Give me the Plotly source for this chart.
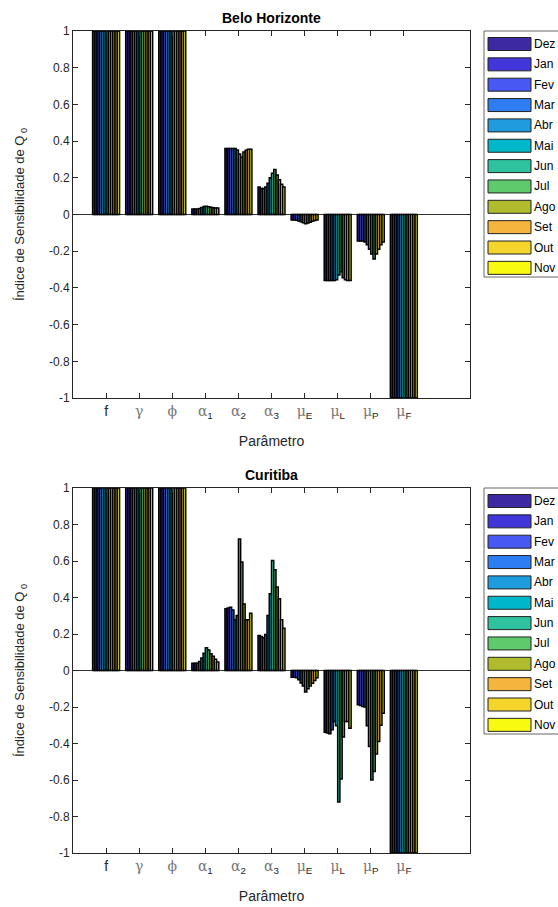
import plotly.graph_objects as go

# ---------------- data ----------------
months = ["Dez", "Jan", "Fev", "Mar", "Abr", "Mai", "Jun", "Jul", "Ago", "Set", "Out", "Nov"]
month_colors = ["#3D2AA3", "#4236DA", "#4759F2", "#2E7DF2", "#1F9CDE", "#00B6C9",
                "#2FC29E", "#5FCA6B", "#B0BC2E", "#F5B43D", "#F5D52B", "#F8FA10"]
G = "<span style='font-family:DejaVu Serif;color:#777'>"
param_labels = ["f", G + "γ</span>", G + "ϕ</span>",
                G + "α</span><sub>1</sub>", G + "α</span><sub>2</sub>", G + "α</span><sub>3</sub>",
                G + "μ</span><sub>E</sub>", G + "μ</span><sub>L</sub>", G + "μ</span><sub>P</sub>",
                G + "μ</span><sub>F</sub>"]
param_pos = [1, 2, 3, 4, 5, 6, 7, 8, 9, 10]
ytick_vals = [-1, -0.8, -0.6, -0.4, -0.2, 0, 0.2, 0.4, 0.6, 0.8, 1]
ytick_text = ["-1", "-0.8", "-0.6", "-0.4", "-0.2", "0", "0.2", "0.4", "0.6", "0.8", "1"]

# Belo Horizonte (rows: months Dez..Nov)
bh_f      = [1, 1, 1, 1, 1, 1, 1, 1, 1, 1, 1, 1]
bh_gamma  = [1, 1, 1, 1, 1, 1, 1, 1, 1, 1, 1, 1]
bh_phi    = [1, 1, 1, 1, 1, 1, 1, 1, 1, 1, 1, 1]
bh_alpha1 = [0.030, 0.030, 0.030, 0.033, 0.038, 0.043, 0.045, 0.042, 0.040, 0.037, 0.035, 0.035]
bh_alpha2 = [0.360, 0.360, 0.360, 0.360, 0.360, 0.352, 0.330, 0.312, 0.340, 0.350, 0.355, 0.355]
bh_alpha3 = [0.150, 0.142, 0.142, 0.150, 0.170, 0.200, 0.225, 0.245, 0.215, 0.190, 0.165, 0.150]
bh_muE    = [-0.030, -0.030, -0.032, -0.035, -0.040, -0.045, -0.050, -0.046, -0.042, -0.037, -0.033, -0.030]
bh_muL    = [-0.360, -0.360, -0.360, -0.360, -0.360, -0.355, -0.330, -0.312, -0.345, -0.355, -0.360, -0.360]
bh_muP    = [-0.145, -0.145, -0.145, -0.150, -0.165, -0.190, -0.215, -0.243, -0.215, -0.190, -0.165, -0.150]
bh_muF    = [-1, -1, -1, -1, -1, -1, -1, -1, -1, -1, -1, -1]

# Curitiba
cw_f      = [1, 1, 1, 1, 1, 1, 1, 1, 1, 1, 1, 1]
cw_gamma  = [1, 1, 1, 1, 1, 1, 1, 1, 1, 1, 1, 1]
cw_phi    = [1, 1, 1, 1, 1, 1, 1, 1, 1, 1, 1, 1]
cw_alpha1 = [0.040, 0.040, 0.040, 0.050, 0.068, 0.095, 0.125, 0.112, 0.092, 0.078, 0.062, 0.047]
cw_alpha2 = [0.338, 0.343, 0.347, 0.332, 0.278, 0.301, 0.721, 0.594, 0.365, 0.278, 0.278, 0.314]
cw_alpha3 = [0.192, 0.186, 0.179, 0.197, 0.301, 0.420, 0.603, 0.552, 0.457, 0.393, 0.278, 0.232]
cw_muE    = [-0.037, -0.037, -0.040, -0.050, -0.068, -0.085, -0.118, -0.100, -0.085, -0.070, -0.055, -0.040]
cw_muL    = [-0.338, -0.343, -0.347, -0.325, -0.280, -0.303, -0.721, -0.595, -0.365, -0.280, -0.280, -0.316]
cw_muP    = [-0.188, -0.192, -0.197, -0.200, -0.303, -0.416, -0.600, -0.553, -0.457, -0.389, -0.300, -0.234]
cw_muF    = [-1, -1, -1, -1, -1, -1, -1, -1, -1, -1, -1, -1]

bh_params = [bh_f, bh_gamma, bh_phi, bh_alpha1, bh_alpha2, bh_alpha3, bh_muE, bh_muL, bh_muP, bh_muF]
cw_params = [cw_f, cw_gamma, cw_phi, cw_alpha1, cw_alpha2, cw_alpha3, cw_muE, cw_muL, cw_muP, cw_muF]

# ---------------- layout geometry (page pixels; body margin removed) ----------------
W, H = 558, 907
ML, MR, MT, MB = 73, 88, 31, 54
PW, PH = W - ML - MR, H - MT - MB
FONT = "Liberation Sans, Arial, Helvetica, sans-serif"
AXC = "#262626"


def px_x(p):
    return (p - ML) / PW


def px_y(p):
    return (H - MB - p) / PH


fig = go.Figure()

for city_params, xa, ya in [(bh_params, "x", "y"), (cw_params, "x2", "y2")]:
    for mi, m in enumerate(months):
        fig.add_trace(go.Bar(
            x=param_pos,
            y=[vals[mi] for vals in city_params],
            name=m,
            marker=dict(color=month_colors[mi], line=dict(color="black", width=1.5)),
            xaxis=xa, yaxis=ya, showlegend=False,
            offsetgroup=str(mi),
        ))

xaxis_common = dict(
    range=[0, 12], tickmode="array", tickvals=param_pos, ticktext=param_labels,
    ticks="inside", ticklen=5, tickcolor=AXC, showline=True, linecolor=AXC, linewidth=1,
    mirror="ticks", showgrid=False, zeroline=False,
    tickfont=dict(family=FONT, size=14, color=AXC),
    title=dict(text="Parâmetro", font=dict(family=FONT, size=14, color=AXC), standoff=16),
)
yaxis_common = dict(
    range=[-1, 1], tickmode="array", tickvals=ytick_vals, ticktext=ytick_text,
    ticks="inside", ticklen=5, tickcolor=AXC, showline=True, linecolor=AXC, linewidth=1,
    mirror="ticks", showgrid=False, zeroline=True, zerolinecolor="#333333", zerolinewidth=1,
    tickfont=dict(family=FONT, size=12, color=AXC),
    title=dict(text="Índice de Sensibilidade de Q<sub> 0</sub>", font=dict(family=FONT, size=13, color=AXC),
               standoff=21),
)

top_dom = [px_y(398), 1.0]
bot_dom = [0.0, px_y(488)]

fig.update_layout(
    width=W, height=H,
    margin=dict(l=ML, r=MR, t=MT, b=MB, autoexpand=False),
    paper_bgcolor="white", plot_bgcolor="white",
    barmode="group", bargap=0.185, bargroupgap=0,
    font=dict(family=FONT, color=AXC),
    xaxis=dict(domain=[0, 1], anchor="y", **xaxis_common),
    yaxis=dict(domain=top_dom, anchor="x", **yaxis_common),
    xaxis2=dict(domain=[0, 1], anchor="y2", **xaxis_common),
    yaxis2=dict(domain=bot_dom, anchor="x2", **yaxis_common),
)

# titles
fig.add_annotation(text="<b>Belo Horizonte</b>", xref="paper", yref="paper",
                   x=px_x(271.5), y=px_y(18), showarrow=False,
                   font=dict(family=FONT, size=14, color="black"), xanchor="center", yanchor="middle")
fig.add_annotation(text="<b>Curitiba</b>", xref="paper", yref="paper",
                   x=px_x(271.5), y=px_y(475), showarrow=False,
                   font=dict(family=FONT, size=14, color="black"), xanchor="center", yanchor="middle")

# custom MATLAB-style legends
for top in [31, 488]:
    fig.add_shape(type="rect", xref="paper", yref="paper",
                  x0=px_x(484), x1=px_x(575), y0=px_y(top), y1=px_y(top + 246),
                  line=dict(color="#666666", width=1), fillcolor="white", layer="above")
    for mi, m in enumerate(months):
        cy = top + 13 + mi * 20.35
        fig.add_shape(type="rect", xref="paper", yref="paper",
                      x0=px_x(488), x1=px_x(531), y0=px_y(cy - 6.5), y1=px_y(cy + 6.5),
                      line=dict(color="#222222", width=1), fillcolor=month_colors[mi], layer="above")
        fig.add_annotation(text=m, xref="paper", yref="paper", x=px_x(532), y=px_y(cy),
                           showarrow=False, xanchor="left", yanchor="middle",
                           font=dict(family=FONT, size=12, color="black"))

fig.write_html("out.html", config={"displayModeBar": False},
               post_script="document.body.style.margin='0';document.body.style.overflow='hidden';")
